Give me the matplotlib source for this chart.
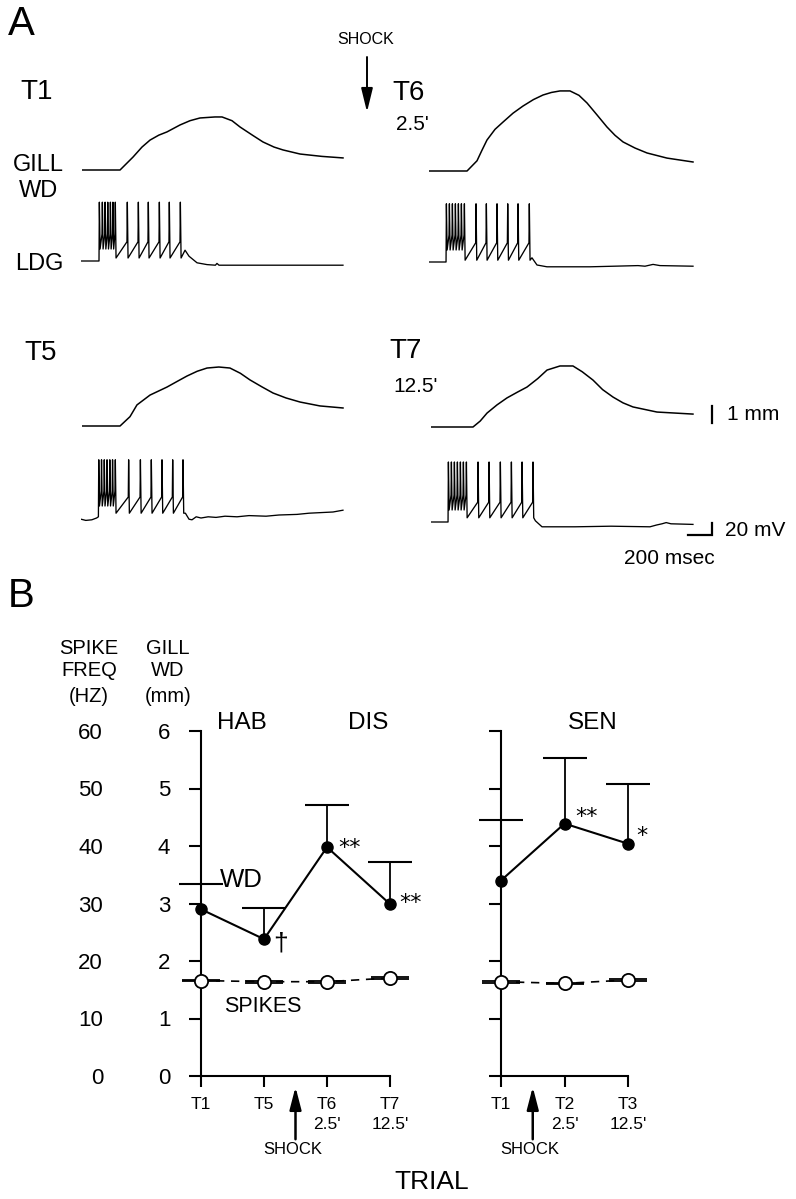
import numpy as np
import matplotlib
matplotlib.use('Agg')
import matplotlib.pyplot as plt

plt.rcParams['font.family'] = ['Liberation Sans', 'DejaVu Sans']

# --- dados ---
# A: retirada da brânquia (ms, mm)
t1_gill_t = [0, 317, 425, 500, 567, 640, 708, 817, 900, 983, 1108, 1167, 1250, 1317, 1420, 1508, 1600, 1675, 1817, 2000, 2175]
t1_gill_mm = [0, 0, 0.76, 1.35, 1.76, 2.05, 2.24, 2.65, 2.9, 3.06, 3.12, 3.12, 2.9, 2.53, 2.05, 1.65, 1.35, 1.18, 0.94, 0.8, 0.71]
t6_gill_t = [0, 317, 400, 440, 483, 550, 617, 700, 783, 870, 950, 1020, 1092, 1175, 1250, 1317, 1400, 1483, 1550, 1617, 1717, 1817, 1983, 2200]
t6_gill_mm = [0, 0, 0.6, 1.2, 1.82, 2.45, 2.88, 3.4, 3.82, 4.2, 4.47, 4.62, 4.71, 4.71, 4.45, 4.0, 3.3, 2.59, 2.1, 1.71, 1.35, 1.06, 0.76, 0.53]
t5_gill_t = [0, 317, 400, 458, 567, 708, 800, 875, 960, 1042, 1140, 1233, 1320, 1400, 1500, 1592, 1700, 1817, 1983, 2175]
t5_gill_mm = [0, 0, 0.55, 1.24, 1.82, 2.29, 2.65, 2.94, 3.22, 3.41, 3.47, 3.41, 3.1, 2.71, 2.3, 1.94, 1.65, 1.41, 1.18, 1.06]
t7_gill_t = [0, 350, 410, 467, 550, 633, 720, 800, 890, 967, 1075, 1183, 1260, 1350, 1430, 1517, 1600, 1683, 1883, 2183]
t7_gill_mm = [0, 0, 0.35, 0.82, 1.3, 1.71, 2.05, 2.35, 2.85, 3.35, 3.59, 3.59, 3.25, 2.76, 2.2, 1.76, 1.42, 1.18, 0.88, 0.76]

# A: LDG (ms, mV relativos à linha de base)
t1_pre = [(0, 0), (150, 0)]
t1_burst = [150, 175, 198, 220, 242, 263, 283]
t1_slow = [383, 475, 558, 650, 733, 825]
t1_tail = [(867, 18), (900, 8), (967, -3), (1050, -6), (1120, -7), (1133, -4), (1150, -7), (1400, -7), (2183, -7)]

t6_pre = [(0, 0), (142, 0)]
t6_burst = [142, 167, 192, 217, 242, 267, 292]
t6_slow = [389, 475, 564, 653, 739, 833]
t6_tail = [(858, 7), (900, -5), (983, -8), (1342, -8), (1742, -6), (1800, -7), (1867, -4), (1925, -6), (2200, -7)]

t5_pre = [(0, -2), (40, -4), (90, -3), (130, 0), (145, 2)]
t5_burst = [145, 168, 191, 214, 237, 260, 283]
t5_slow = [394, 492, 583, 672, 761, 847]
t5_tail = [(870, 8), (900, -2), (925, -3), (960, 2), (1000, 0), (1060, 2), (1125, 1), (1200, 3),
           (1300, 2), (1400, 4), (1542, 3), (1650, 5), (1800, 6), (1900, 8), (2000, 9), (2100, 10), (2183, 13)]

t7_pre = [(0, 0), (142, 0)]
t7_burst = [142, 167, 192, 217, 242, 267, 292]
t7_slow = [389, 481, 575, 667, 756, 847]
t7_tail = [(870, 2), (925, -8), (1200, -8), (1500, -7), (1825, -8), (1880, -5), (1925, -3),
           (1960, -1), (2000, -3), (2183, -4)]

spike_peak = [98, 97, 97, 100]   # T1, T6, T5, T7
burst_thr = 45
burst_low = 20
slow_thr = [32, 32, 35, 33]
slow_low = [5, 3, 8, 7]

# B: médias
hab_trials = ['T1', 'T5', "T6\n2.5'", "T7\n12.5'"]
hab_wd = [2.90, 2.38, 3.98, 2.99]
hab_wd_err = [0.44, 0.54, 0.74, 0.73]
hab_spikes = [16.6, 16.4, 16.4, 17.05]
hab_sig = ['', '†', '**', '**']

sen_trials = ['T1', "T2\n2.5'", "T3\n12.5'"]
sen_wd = [3.40, 4.39, 4.04]
sen_wd_err = [1.06, 1.14, 1.03]
sen_spikes = [16.4, 16.1, 16.7]
sen_sig = ['', '**', '*']

hz_ticks = [0, 10, 20, 30, 40, 50, 60]
mm_ticks = [0, 1, 2, 3, 4, 5, 6]

W, H = 796, 1199
fig = plt.figure(figsize=(W / 100, H / 100), dpi=100)

# camada para textos em pixels
ov = fig.add_axes([0, 0, 1, 1])
ov.set_xlim(0, W)
ov.set_ylim(H, 0)
ov.axis('off')


def px_axes(left, top, right, bottom):
    return fig.add_axes([left / W, 1 - bottom / H, (right - left) / W, (bottom - top) / H])


def txt(x, y, s, size, **kw):
    kw.setdefault('ha', 'center')
    kw.setdefault('va', 'center')
    ov.text(x, y, s, fontsize=size, **kw)


PX_MS = 0.12   # px por ms


def trace_axes(x0, ybase, sy, ylo, yhi):
    ax = px_axes(x0, ybase - yhi * sy, x0 + 2400 * PX_MS, ybase - ylo * sy)
    ax.set_xlim(0, 2400)
    ax.set_ylim(ylo, yhi)
    ax.axis('off')
    return ax


def ldg_trace(pre, burst, slow, peak, s_thr, s_low, tail):
    t = [p[0] for p in pre]
    v = [p[1] for p in pre]
    spikes = [(s, burst_thr, burst_low) for s in burst[:-1]]
    spikes += [(burst[-1], burst_thr, s_low)]
    spikes += [(s, s_thr, s_low) for s in slow]
    for i, (s, thr, low) in enumerate(spikes):
        if i > 0:
            t.append(s)
            v.append(thr)
        t += [s + 3, s + 9]
        v += [peak, low]
    t += [p[0] for p in tail]
    v += [p[1] for p in tail]
    return t, v


gill_sets = [(t1_gill_t, t1_gill_mm, 82, 170), (t6_gill_t, t6_gill_mm, 429, 171),
             (t5_gill_t, t5_gill_mm, 82, 426), (t7_gill_t, t7_gill_mm, 431, 427)]
ldg_sets = [(t1_pre, t1_burst, t1_slow, t1_tail, 81, 261), (t6_pre, t6_burst, t6_slow, t6_tail, 429, 262),
            (t5_pre, t5_burst, t5_slow, t5_tail, 81, 518), (t7_pre, t7_burst, t7_slow, t7_tail, 431, 522)]

gill_axes = []
for t, mm, x0, yb in gill_sets:
    ax = trace_axes(x0, yb, 17, -1, 6)
    ax.plot(t, mm, color='k', lw=1.1)
    gill_axes.append(ax)

ldg_axes = []
for i, (pre, burst, slow, tail, x0, yb) in enumerate(ldg_sets):
    ax = trace_axes(x0, yb, 0.6, -30, 110)
    t, v = ldg_trace(pre, burst, slow, spike_peak[i], slow_thr[i], slow_low[i], tail)
    ax.plot(t, v, color='k', lw=0.95)
    ldg_axes.append(ax)

# barras de escala (1 mm, 20 mV, 200 ms)
gill_axes[3].plot([2342, 2342], [0.24, 0.24 + 1.0], color='k', lw=1.6, clip_on=False)
ldg_axes[3].plot([2142, 2142 + 200, 2142 + 200], [-21.7, -21.7, -21.7 + 20], color='k', lw=1.6,
                 clip_on=False, solid_joinstyle='miter')

# textos painel A
txt(21, 24, 'A', 29)
txt(37, 92, 'T1', 20)
txt(38, 165, 'GILL', 17)
txt(39, 191, 'WD', 17)
txt(39, 264, 'LDG', 17)
txt(366, 39, 'SHOCK', 11.5)
ov.annotate('', xy=(367, 112), xytext=(367, 57),
            arrowprops=dict(arrowstyle='-|>,head_length=0.9,head_width=0.22', lw=1.4, color='k',
                            shrinkA=0, shrinkB=0, mutation_scale=16))
txt(409, 93, 'T6', 20)
txt(412, 124, "2.5'", 15)
txt(41, 353, 'T5', 20)
txt(406, 351, 'T7', 20)
txt(416, 386, "12.5'", 15)
txt(727, 415, '1 mm', 15, ha='left')
txt(725, 530, '20 mV', 15, ha='left')
txt(669, 558, '200 msec', 15)

# painel B
txt(21, 596, 'B', 29)
for lab, y in zip(['SPIKE', 'FREQ', '(HZ)'], [648, 671, 696]):
    txt(89, y, lab, 14.5)
for lab, y in zip(['GILL', 'WD', '(mm)'], [648, 671, 696]):
    txt(168, y, lab, 14.5)
txt(242, 723, 'HAB', 17.5)
txt(368, 723, 'DIS', 17.5)
txt(593, 723, 'SEN', 17.5)
txt(241, 880, 'WD', 18.5)
txt(263, 1007, 'SPIKES', 15.5)
txt(432, 1182, 'TRIAL', 19)

Y0, Y6 = 1076, 731


def trial_panel(left, right, trials, wd, wd_err, spikes, sig, sig_off, shock_x, labels):
    n = len(trials)
    x = np.arange(n)
    ax = px_axes(left, Y6, right, Y0)
    ax.set_xlim(0, n - 1)
    ax.set_ylim(0, 6)
    ax.patch.set_visible(False)
    for s in ['top', 'right']:
        ax.spines[s].set_visible(False)
    for s in ['left', 'bottom']:
        ax.spines[s].set_linewidth(1.5)
    ax.set_yticks(mm_ticks)
    ax.set_xticks(x)
    ax.set_xticklabels(trials, fontsize=12.5, linespacing=1.45)
    ax.tick_params(axis='y', direction='out', length=8.6, width=1.5, pad=13.5, labelsize=16)
    ax.tick_params(axis='x', direction='out', length=8, width=1.5, pad=7)
    if not labels:
        ax.set_yticklabels([])

    eb = ax.errorbar(x, wd, yerr=[np.zeros(n), wd_err], fmt='-o', color='k', lw=1.5, ms=8,
                     capsize=16, capthick=1.5, elinewidth=1.3, clip_on=False, zorder=3)
    # só a barra superior
    for cap in eb[1]:
        if np.allclose(cap.get_ydata(), wd):
            cap.set_visible(False)
    for xi, yi, s, off in zip(x, wd, sig, sig_off):
        if s == '†':
            ax.annotate(s, (xi, yi), xytext=off, textcoords='offset points',
                        fontsize=19, ha='center', va='center', annotation_clip=False)
        elif s:
            ax.annotate(s, (xi, yi), xytext=off, textcoords='offset points', family='DejaVu Sans',
                        fontsize=16, ha='center', va='center', annotation_clip=False)

    ax.annotate('', xy=(shock_x, -0.19), xytext=(shock_x, -1.1), annotation_clip=False,
                arrowprops=dict(arrowstyle='-|>,head_length=0.85,head_width=0.22', lw=1.8,
                                color='k', shrinkA=0, shrinkB=0, mutation_scale=16))
    ax.text(shock_x - 0.05, -1.27, 'SHOCK', fontsize=12, ha='center', va='center')

    sax = px_axes(left, Y6, right, Y0)
    sax.set_xlim(0, n - 1)
    sax.set_ylim(0, 60)
    sax.patch.set_visible(False)
    for s in sax.spines.values():
        s.set_visible(False)
    sax.set_xticks([])
    if labels:
        sax.set_yticks(hz_ticks)
        sax.tick_params(axis='y', length=0, pad=70.5, labelsize=16)
    else:
        sax.set_yticks([])
    sax.plot(x, spikes, ls=(0, (5, 4)), color='k', lw=1.2, zorder=2, clip_on=False)
    sax.errorbar(x, spikes, yerr=0.15, fmt='o', mfc='white', mec='k', ms=9.5, mew=1.3,
                 ecolor='k', capsize=14, capthick=1.2, elinewidth=1.2, zorder=4, clip_on=False)
    return ax, sax


trial_panel(201, 390, hab_trials, hab_wd, hab_wd_err, hab_spikes, hab_sig,
            [None, (12, -3), (16, -0.5), (15, 0.7)], 1.5, True)
trial_panel(501, 628, sen_trials, sen_wd, sen_wd_err, sen_spikes, sen_sig,
            [None, (16, 4.8), (10, 5.5)], 0.5, False)

fig.savefig('out.png', dpi=100)
